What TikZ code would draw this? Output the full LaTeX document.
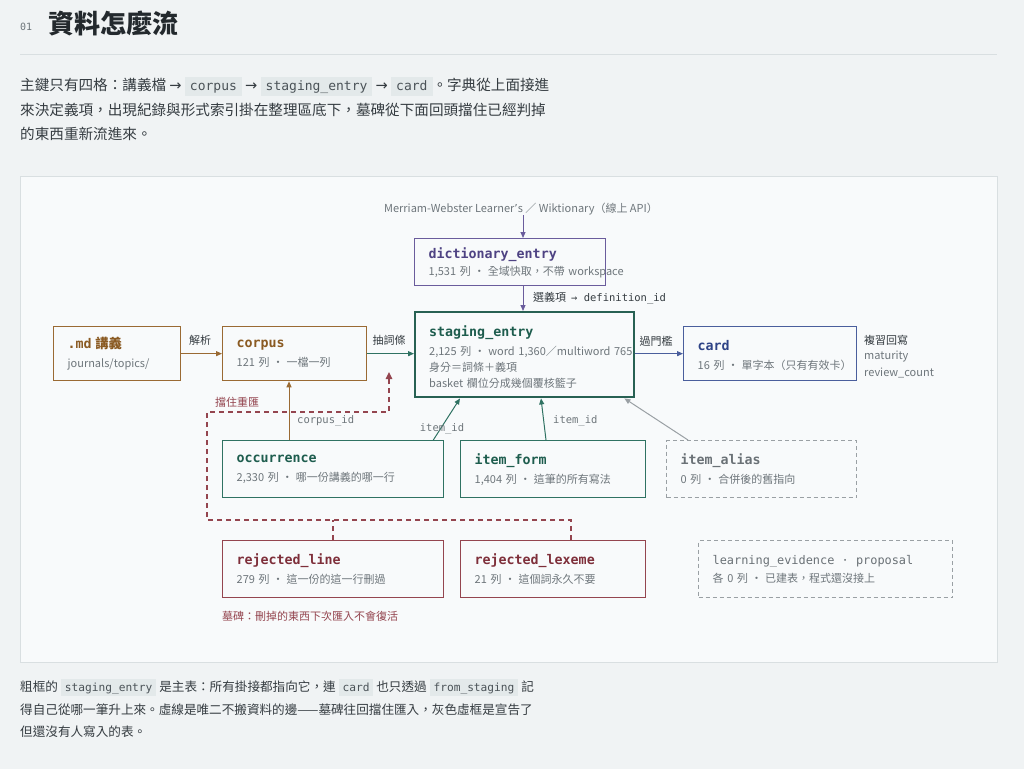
\documentclass[tikz,border=0pt]{standalone}
\usepackage{fontspec}
\setmainfont{Noto Sans CJK TC}
\setmonofont{DejaVu Sans Mono}
\newfontfamily\sym{DejaVu Sans}
\usetikzlibrary{arrows.meta,calc}
\definecolor{pagebg}{HTML}{F0F3F4}
\definecolor{panelbg}{HTML}{F8FAFB}
\definecolor{panelrule}{HTML}{D9DFE1}
\definecolor{ink}{HTML}{23292D}
\definecolor{body}{HTML}{353C41}
\definecolor{mute}{HTML}{6E767B}
\definecolor{codebg}{HTML}{E3E9EA}
\definecolor{codefg}{HTML}{4B5358}
\definecolor{cbrown}{HTML}{9A6A33}
\definecolor{tbrown}{HTML}{8A5A22}
\definecolor{cgreen}{HTML}{2F7262}
\definecolor{tgreen}{HTML}{1E5D4E}
\definecolor{cpurple}{HTML}{6A5C9C}
\definecolor{tpurple}{HTML}{4E4383}
\definecolor{cblue}{HTML}{4A5E9C}
\definecolor{tblue}{HTML}{2E4386}
\definecolor{cred}{HTML}{94454F}
\definecolor{tred}{HTML}{7E2F3A}
\definecolor{cgray}{HTML}{9AA0A4}
\definecolor{tgray}{HTML}{6A7176}
\newcommand\ttl[1]{{\ttfamily\bfseries\fontsize{13.3}{16}\selectfont #1}}
\newcommand\Lz[1]{\mbox{#1}}
\newcommand\dsep{\hspace{3pt}・\hspace{3pt}}
\newcommand\rarr{{\sym →}}
\newcommand\codeA[1]{{\setlength{\fboxsep}{0pt}\colorbox{codebg}{\rule[-5pt]{0pt}{19pt}\hspace{5pt}{\ttfamily\fontsize{13}{14}\selectfont\color{codefg}#1}\hspace{5pt}}}}
\newcommand\codeB[1]{{\setlength{\fboxsep}{0pt}\colorbox{codebg}{\rule[-5pt]{0pt}{17pt}\hspace{4pt}{\ttfamily\fontsize{11.2}{13}\selectfont\color{codefg}#1}\hspace{4pt}}}}
\tikzset{
  tbl/.style={draw, rectangle, line width=1.3pt, anchor=north west, inner xsep=14pt, inner ysep=0pt,
    align=left, font=\fontsize{11}{16}\selectfont, text=mute},
  ghost/.style={tbl, draw=cgray, dash pattern=on 4pt off 3pt},
  conn/.style={line width=1pt, -{Triangle[length=6pt,width=5pt]}},
  tomb/.style={draw=cred, line width=1.3pt, dash pattern=on 5pt off 4pt},
  lab/.style={inner sep=0pt, font=\fontsize{11}{14}\selectfont, text=body},
  mlab/.style={inner sep=0pt, font=\ttfamily\fontsize{10.5}{12}\selectfont, text=mute},
  para/.style={inner sep=0pt, anchor=base west, font=\fontsize{14.6}{18}\selectfont, text=body},
  capt/.style={inner sep=0pt, anchor=base west, font=\fontsize{12.6}{16}\selectfont, text=body},
}
\begin{document}
\begin{tikzpicture}[x=1pt,y=-1pt]
\fill[pagebg] (0,0) rectangle (1024,769);
\useasboundingbox (0,0) rectangle (1024,769);

% header
\node[anchor=west, inner sep=0pt, font=\ttfamily\fontsize{10}{12}\selectfont, text=mute] (num) at (20,27) {01};
\node[anchor=west, inner sep=0pt, font=\bfseries\fontsize{26}{30}\selectfont, text=ink] (title) at (48,24) {資料怎麼流};
\draw[panelrule, line width=1pt] (20,54) -- (997,54);

% intro paragraph
\node[para] (p1) at (20,90.5) {主鍵只有四格：講義檔 \rarr{} \codeA{corpus} \rarr{} \codeA{staging\_entry} \rarr{} \codeA{card}。字典從上面接進};
\node[para] (p2) at (20,115.5) {來決定義項，出現紀錄與形式索引掛在整理區底下，墓碑從下面回頭擋住已經判掉};
\node[para] (p3) at (20,139.5) {的東西重新流進來。};

% panel
\fill[panelbg] (20,176) rectangle (997,662);
\draw[panelrule, line width=1pt] (20,176) rectangle (997,662);

% source text
\node[lab, text=mute] (mw) at (521,209) {Merriam-Webster Learner{\sym ’}s ／ Wiktionary（線上 API）};

% boxes
\node[tbl, draw=cbrown, text width=99pt, minimum height=54pt] (md) at (53,326)
  {\Lz{{\color{tbrown}\ttl{.md\ }{\bfseries\fontsize{13.3}{16}\selectfont 講義}}}\\[3pt]\Lz{journals/topics/}};
\node[tbl, draw=cbrown, text width=116pt, minimum height=54pt] (corpus) at (222,326)
  {\Lz{\color{tbrown}\ttl{corpus}}\\[3pt]\Lz{121 列\dsep 一檔一列}};
\node[tbl, draw=cpurple, text width=163pt, minimum height=47pt] (dict) at (414,238)
  {\Lz{\color{tpurple}\ttl{dictionary\_entry}}\rule{0pt}{13pt}\\[1pt]\Lz{1,531 列\dsep 全域快取，不帶 workspace}};
\node[tbl, draw=cgreen!85!black, line width=2.4pt, text width=191pt, minimum height=85pt] (staging) at (414,311)
  {\Lz{\color{tgreen}\ttl{staging\_entry}}\rule{0pt}{16pt}\\[3pt]\Lz{2,125 列\dsep word 1,360／multiword 765}\\\Lz{身分＝詞條＋義項}\\\Lz{basket 欄位分成幾個覆核籃子}};
\node[tbl, draw=cblue, text width=145pt, minimum height=54pt] (card) at (683,326)
  {\Lz{\color{tblue}\ttl{card}}\rule{0pt}{13pt}\\[3pt]\Lz{16 列\dsep 單字本（只有有效卡）}};
\node[tbl, draw=cgreen, text width=193pt, minimum height=57pt] (occ) at (222,440)
  {\Lz{\color{tgreen}\ttl{occurrence}}\\[3pt]\Lz{2,330 列\dsep 哪一份講義的哪一行}};
\node[tbl, draw=cgreen, text width=157pt, minimum height=57pt] (form) at (460,440)
  {\Lz{\color{tgreen}\ttl{item\_form}}\\[3pt]\Lz{1,404 列\dsep 這筆的所有寫法}};
\node[ghost, text width=162pt, minimum height=57pt] (alias) at (666,440)
  {\Lz{\color{tgray}\ttl{item\_alias}}\\[3pt]\Lz{0 列\dsep 合併後的舊指向}};
\node[tbl, draw=cred, text width=193pt, minimum height=57pt] (rejline) at (222,540)
  {\Lz{\color{tred}\ttl{rejected\_line}}\\[3pt]\Lz{279 列\dsep 這一份的這一行刪過}};
\node[tbl, draw=cred, text width=157pt, minimum height=57pt] (rejlex) at (460,540)
  {\Lz{\color{tred}\ttl{rejected\_lexeme}}\\[3pt]\Lz{21 列\dsep 這個詞永久不要}};
\node[ghost, text width=226pt, minimum height=57pt] (learn) at (698,540)
  {\Lz{\color{tgray}\ttfamily\fontsize{11.9}{16}\selectfont learning\_evidence\hspace{7.2pt}·\hspace{7.2pt}proposal}\\[2pt]\Lz{各 0 列\dsep 已建表，程式還沒接上}};

% card side note
\node[lab, anchor=west] (cn1) at (864,340) {複習回寫};
\node[lab, anchor=west, text=mute] (cn2) at (864,357) {maturity};
\node[lab, anchor=west, text=mute] (cn3) at (864,373) {review\_count};

% main row connectors
\draw[conn, cpurple] (mw.south) ++(2pt,0) coordinate (mwx) -- (mwx |- dict.north);
\draw[conn, cpurple] (mwx |- dict.south) -- (mwx |- staging.north);
\node[anchor=west, inner sep=0pt, text=body] (dlab) at (533,298)
  {{\fontsize{11}{14}\selectfont 選義項}\hspace{5pt}{\ttfamily\fontsize{10.5}{12}\selectfont → definition\_id}};

\draw[conn, cbrown] (md.east) -- (corpus.west);
\node[lab] (l1) at (200,340) {解析};
\draw[conn, cgreen] (corpus.east) -- (staging.west |- corpus.east);
\node[lab] (l2) at (389,340) {抽詞條};
\draw[conn, cblue] (staging.east |- card.west) -- (card.west);
\node[lab] (l3) at (656,341) {過門檻};

% lower connectors
\coordinate (oc1) at ([xshift=67pt]occ.north west);
\draw[conn, cbrown] (oc1) -- (oc1 |- corpus.south);
\node[mlab, anchor=west] (l4) at (297,421) {corpus\_id};
\draw[conn, cgreen] ([xshift=-11pt]occ.north east) -- ([xshift=46pt]staging.south west);
\node[mlab] (l5) at (442,429) {item\_id};
\draw[conn, cgreen] ([xshift=86pt]form.north west) -- ([xshift=127pt]staging.south west);
\node[mlab, anchor=west] (l6) at (553,421) {item\_id};
\draw[conn, cgray] ([xshift=22pt]alias.north west) -- ([xshift=-11pt]staging.south east);

% tombstone guard
\coordinate (tombtip) at (389,372);
\draw[tomb] ([xshift=111pt]rejline.north west) -- ++(0,-20);
\draw[tomb, -{Triangle[length=7pt,width=6.5pt]}] ([xshift=111pt]rejlex.north west) -- ++(0,-20) -- ++(-364,0) -- ++(0,-108) -| (tombtip);
\node[lab, text=cred] (l7) at (237,402) {擋住重匯};
\node[lab, text=cred, anchor=west] (tcap) at (222,616) {墓碑：刪掉的東西下次匯入不會復活};

% caption
\node[capt] (c1) at (20,691) {粗框的 \codeB{staging\_entry} 是主表：所有掛接都指向它，連 \codeB{card} 也只透過 \codeB{from\_staging} 記};
\node[capt] (c2) at (20,714) {得自己從哪一筆升上來。虛線是唯二不搬資料的邊——墓碑往回擋住匯入，灰色虛框是宣告了};
\node[capt] (c3) at (20,736) {但還沒有人寫入的表。};
\end{tikzpicture}
\end{document}
